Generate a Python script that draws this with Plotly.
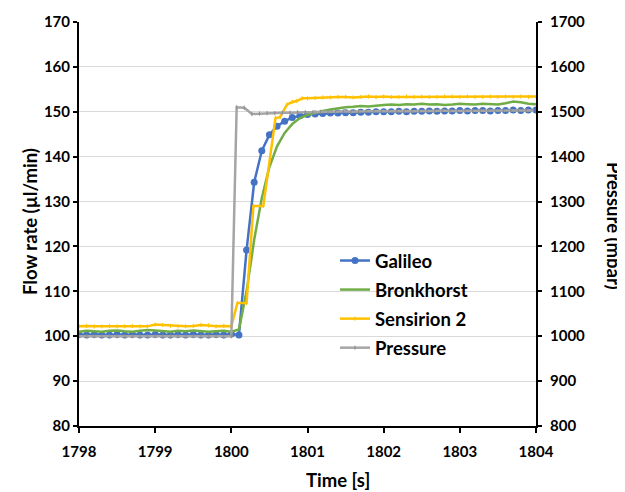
import plotly.graph_objects as go

# ---- data ----
time = [round(1798.0 + 0.1 * k, 2) for k in range(61)]

galileo = [100.4, 100.3, 100.4, 100.3, 100.3, 100.4, 100.3, 100.4, 100.3, 100.3,
           100.4, 100.3, 100.3, 100.4, 100.3, 100.4, 100.3, 100.3, 100.4, 100.3,
           100.5, 100.3,
           119.2, 134.3, 141.3, 144.9, 146.8, 147.9, 148.7, 149.1, 149.4, 149.5,
           149.6, 149.7, 149.7, 149.8, 149.8, 149.9, 149.9, 150.0, 150.0,
           150.0, 150.1, 150.0, 150.1, 150.1, 150.2, 150.1, 150.2, 150.2, 150.3,
           150.2, 150.3, 150.3, 150.2, 150.3, 150.3, 150.4, 150.3, 150.4, 150.4]

bronkhorst = [101.0, 101.2, 101.1, 101.0, 101.2, 101.3, 101.1, 101.0, 101.2, 101.4,
              101.3, 101.1, 101.0, 101.2, 101.1, 101.3, 101.2, 101.0, 101.1, 101.2,
              101.0, 101.5,
              110.0, 121.5, 130.8, 137.7, 142.3, 145.3, 147.3, 148.6, 149.3, 149.8,
              150.2, 150.5, 150.8, 151.0, 151.1, 151.3, 151.2, 151.4, 151.5,
              151.6, 151.5, 151.7, 151.6, 151.8, 151.6, 151.7, 151.5, 151.6, 151.8,
              151.7, 151.6, 151.8, 151.7, 151.6, 151.9, 152.3, 152.1, 151.8, 151.7]

sens_time = ([round(1798.0 + 0.1 * k, 2) for k in range(21)]
             + [1800.08, 1800.2, 1800.29, 1800.42, 1800.58, 1800.64, 1800.73, 1800.8, 1800.86, 1800.93]
             + [round(1801.0 + 0.1 * k, 2) for k in range(31)])
sensirion = [102.2, 102.3, 102.2, 102.2, 102.3, 102.2, 102.2, 102.3, 102.2, 102.2,
             102.6, 102.5, 102.3, 102.2, 102.2, 102.3, 102.5, 102.4, 102.2, 102.3, 102.2,
             107.4, 107.4, 129.0, 129.0, 148.6, 148.8, 151.6, 152.2, 152.4, 153.0,
             153.0, 153.1, 153.2, 153.2, 153.3, 153.3, 153.2, 153.3, 153.4, 153.3,
             153.4, 153.3, 153.3, 153.4, 153.3, 153.4, 153.3, 153.3, 153.4, 153.4,
             153.3, 153.4, 153.3, 153.3, 153.4, 153.3, 153.4, 153.3, 153.4, 153.3, 153.4]

press_time = ([round(1798.0 + 0.1 * k, 2) for k in range(21)]
              + [round(1800.07 + 0.1 * k, 2) for k in range(40)])
pressure = [1000] * 21 + [1510, 1509, 1495, 1496, 1497, 1497, 1498, 1498, 1499, 1499,
                          1499, 1500, 1500, 1500, 1501, 1500, 1501, 1501, 1501, 1502,
                          1501, 1502, 1502, 1501, 1502, 1502, 1502, 1503, 1502, 1502,
                          1503, 1502, 1503, 1503, 1502, 1503, 1503, 1503, 1503, 1503]

FONT = "Lato"
BLUE, GREEN, YELLOW, GRAY = "#4472C4", "#70AD47", "#FFC000", "#A5A5A5"

fig = go.Figure()
fig.add_trace(go.Scatter(x=time, y=galileo, name="Galileo", mode="lines+markers", legendgroup="a",
                         line=dict(color=BLUE, width=2.5),
                         marker=dict(symbol="circle", size=7, color=BLUE)))
fig.add_trace(go.Scatter(x=time, y=bronkhorst, name="Bronkhorst", mode="lines", legendgroup="b",
                         line=dict(color=GREEN, width=2.5)))
fig.add_trace(go.Scatter(x=sens_time, y=sensirion, name="Sensirion 2", mode="lines+markers", legendgroup="c",
                         line=dict(color=YELLOW, width=2.5),
                         marker=dict(symbol="line-ns", size=3, line=dict(color=YELLOW, width=1))))
fig.add_trace(go.Scatter(x=press_time, y=pressure, name="Pressure", mode="lines+markers", legendgroup="d",
                         yaxis="y2",
                         line=dict(color=GRAY, width=2.5),
                         marker=dict(symbol="line-ns", size=3, line=dict(color="#8C8C8C", width=1))))

tickfont = dict(family=FONT, size=15, color="black", weight="bold")
titlefont = dict(family=FONT, size=18.5, color="black", weight="bold")

# page is drawn with an 8px body margin, so figure coordinates = page - 8
W, H, L, R, T, B = 617, 484, 71, 89, 14, 66
pw, ph = W - L - R, H - T - B

fig.update_layout(
    width=W, height=H,
    margin=dict(l=L, r=R, t=T, b=B, autoexpand=False),
    paper_bgcolor="white", plot_bgcolor="white",
    font=dict(family=FONT, color="black"),
    showlegend=True,
    legend=dict(x=(327 - L) / pw, y=(H - B - 234) / ph, xanchor="left", yanchor="top",
                bgcolor="rgba(0,0,0,0)", font=dict(family=FONT, size=18.5, color="black", weight="bold"),
                tracegroupgap=2, itemwidth=30),
    xaxis=dict(range=[1798, 1804], dtick=1, tick0=1798, showgrid=False, zeroline=False,
               showline=True, linecolor="black", linewidth=2, automargin=False,
               ticks="outside", ticklen=5, tickwidth=1.5, tickcolor="black",
               ticklabelstandoff=6, tickfont=tickfont),
    yaxis=dict(range=[80, 170], dtick=10, showgrid=True, gridcolor="#D9D9D9", gridwidth=1,
               zeroline=False, showline=True, linecolor="black", linewidth=2, automargin=False,
               ticks="outside", ticklen=4, tickwidth=1.5, tickcolor="black",
               tickfont=tickfont),
    yaxis2=dict(range=[800, 1700], dtick=100, overlaying="y", side="right", showgrid=False,
                zeroline=False, showline=True, linecolor="black", linewidth=2, automargin=False,
                ticks="outside", ticklen=4, tickwidth=1.5, tickcolor="black",
                ticklabelstandoff=5, tickfont=tickfont),
    annotations=[
        dict(text="Pressure (mbar)", x=(606 - L) / pw, xref="paper", y=(H - B - 218) / ph, yref="paper",
             showarrow=False, textangle=90, xanchor="center", yanchor="middle", font=titlefont),
        dict(text="Flow rate (µl/min)", x=(22 - L) / pw, xref="paper", y=(H - B - 214) / ph, yref="paper",
             showarrow=False, textangle=-90, xanchor="center", yanchor="middle", font=titlefont),
        dict(text="Time [s]", x=(330 - L) / pw, xref="paper", y=(H - B - 472) / ph, yref="paper",
             showarrow=False, xanchor="center", yanchor="middle", font=titlefont),
    ],
)

fig.write_html("out.html")
